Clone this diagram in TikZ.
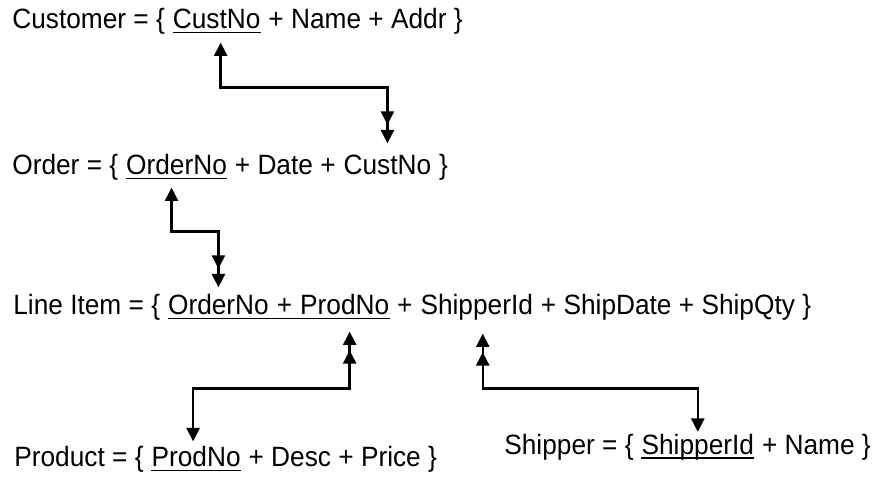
\documentclass[tikz,border=0pt]{standalone}
\usepackage{fontspec}
\setmainfont[FakeStretch=0.94]{Liberation Sans}
\usepackage{tikz}
\usetikzlibrary{arrows.meta, calc, positioning}

\begin{document}
\begin{tikzpicture}[>={Triangle[width=7.4pt,length=7.6pt,sep=3pt]},
    fld/.style={inner sep=0pt, text height=11.4pt, text depth=0pt, anchor=base west,
        font=\fontsize{15.9}{19}\selectfont},
    nxt/.style={fld, xshift=4.15pt},
    uline/.style={line width=0.85pt},
    link/.style={line width=1.4pt}]
        \useasboundingbox (0,0) rectangle (17.62,9.54);

        % Customer
        \node[fld] (cust) at (0.24,8.96) {Customer = \{};
        \node[nxt] (custno) at (cust.base east) {CustNo};
        \node[nxt] (custrest) at (custno.base east) {+ Name + Addr \}};

        % Order
        \node[fld] (order) at (0.24,6.04) {Order = \{};
        \node[nxt] (oordno) at (order.base east) {OrderNo};
        \node[nxt] (omid) at (oordno.base east) {+ Date +};
        \node[nxt] (ocustno) at (omid.base east) {CustNo};
        \node[nxt] (oend) at (ocustno.base east) {\}};

        % Line Item
        \node[fld] (line) at (0.26,3.24) {Line Item = \{};
        \node[nxt] (lordno) at (line.base east) {OrderNo};
        \node[nxt] (lplus) at (lordno.base east) {+};
        \node[nxt] (lprodno) at (lplus.base east) {ProdNo};
        \node[nxt] (lplus2) at (lprodno.base east) {+};
        \node[nxt] (lshipid) at (lplus2.base east) {ShipperId};
        \node[nxt] (lrest) at (lshipid.base east) {+ ShipDate + ShipQty \}};

        % Product
        \node[fld] (prod) at (0.28,0.2) {Product = \{};
        \node[nxt] (pprodno) at (prod.base east) {ProdNo};
        \node[nxt] (prest) at (pprodno.base east) {+ Desc + Price \}};

        % Shipper
        \node[fld] (ship) at (10.08,0.45) {Shipper = \{};
        \node[nxt] (sshipid) at (ship.base east) {ShipperId};
        \node[nxt] (srest) at (sshipid.base east) {+ Name \}};

        % underlines of the keys
        \draw[uline] ([yshift=-0.06cm]custno.south west) -- ([yshift=-0.06cm]custno.south east);
        \draw[uline] ([yshift=-0.06cm]oordno.south west) -- ([yshift=-0.06cm]oordno.south east);
        \draw[uline] ([yshift=-0.06cm]lordno.south west) -- ([yshift=-0.06cm]lprodno.south east);
        \draw[uline] ([yshift=-0.06cm]pprodno.south west) -- ([yshift=-0.06cm]pprodno.south east);
        \draw[uline] ([yshift=-0.06cm]sshipid.south west) -- ([yshift=-0.06cm]sshipid.south east);

        % links between the keys
        \draw[link, <->>, shorten <=0.16cm, shorten >=0.12cm]
            ([xshift=0.08cm]custno.south) -- ++(0,-1.16) -| (ocustno.north);
        \draw[link, <->>, shorten <=0.14cm, shorten >=0.04cm]
            ([xshift=-0.1cm]oordno.south) -- ++(0,-1.12) -| (lordno.north);
        \draw[link, <<->, shorten <=0.22cm]
            ([xshift=0.1cm]lprodno.south) -- ++(0,-1.46) -| ([xshift=-0.06cm]pprodno.north);
        \draw[link, <<->, shorten <=0.26cm, shorten >=-0.06cm]
            ([xshift=0.12cm]lshipid.south) -- ++(0,-1.46) -| (sshipid.north);
    \end{tikzpicture}
\end{document}
